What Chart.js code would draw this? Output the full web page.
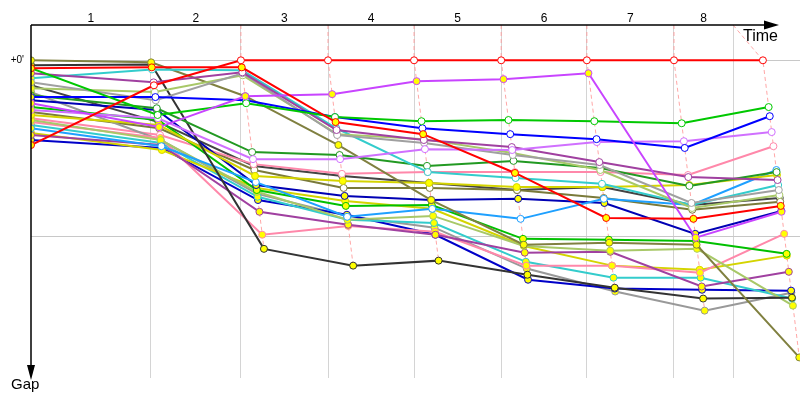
<!DOCTYPE html>
<html>
<head>
<meta charset="utf-8">
<script src="https://cdn.jsdelivr.net/npm/chart.js@4.4.1/dist/chart.umd.min.js"></script>
<style>
  body { margin: 0; background: #fff; }
  canvas { display: block; }
</style>
</head>
<body>
<canvas id="grafico" width="800" height="400"></canvas>
<script>
// etiquetas de vuelta (arriba)
const vueltas = ['1', '2', '3', '4', '5', '6', '7', '8'];
// tiempo de referencia del lider al final de cada vuelta (s), 0 = salida
const tiempoRef = [0, 333, 583, 825, 1064, 1306, 1544, 1786, 2033];
// lineas verticales de vuelta (s), la ultima es el tiempo limite
const lineasVuelta = [333, 583, 825, 1064, 1306, 1544, 1786, 1950];
// ticks del eje de gap (s)
const ticksGap = [0, 60];

// gap al lider por vuelta (s), indice 0 = parrilla
const rojo1      = [28.8, 8.5, 0, 0, 0, 0, 0, 0, 0];
const rojo2      = [2.7, 2.4, 2.4, 21.0, 25.1, 38.3, 53.6, 53.9, 49.5];
const violeta    = [14.6, 22.7, 12.2, 11.5, 7.1, 6.4, 4.4, 60.3, 51.5];
const verde      = [2.7, 18.6, 14.6, 19.3, 20.7, 20.3, 20.7, 21.4, 15.9];
const azul       = [12.5, 12.5, 13.6, 19.3, 23.1, 25.1, 26.8, 29.8, 19.0];
const lila       = [16.9, 19.7, 33.6, 33.6, 30.2, 30.5, 27.8, 27.5, 24.4];
const morado     = [4.4, 7.5, 4.1, 23.7, 27.1, 29.5, 34.6, 39.7, 40.7];
const gris       = [7.5, 13.6, 4.4, 25.4, 28.1, 32.2, 35.6, 48.5, 44.1];
const verdeClaro = [9.5, 10.8, 5.1, 25.1, 26.8, 31.5, 37.3, 50.2, 45.8];
const cian       = [6.1, 3.1, 3.4, 23.1, 38.0, 40.0, 42.0, 49.2, 42.4];
const verdeOsc   = [11.9, 16.3, 31.2, 32.2, 35.9, 34.2, 36.6, 42.7, 38.0];
const oliva      = [0, 0.7, 12.2, 28.8, 47.5, 62.7, 62.0, 62.7, 101.0];
const negro      = [1.7, 1.4, 64.1, 69.8, 68.1, 72.9, 77.3, 81.0, 80.7];
const amarillo   = [18.6, 22.0, 39.3, 41.0, 41.7, 43.1, 43.1, 42.4, 39.0];
const celeste    = [23.1, 29.2, 41.4, 53.2, 50.5, 53.9, 47.1, 49.2, 37.3];
const azulOsc    = [13.6, 16.9, 42.4, 46.1, 47.5, 47.1, 48.5, 59.0, 51.2];
const verde2     = [15.9, 20.3, 44.1, 49.5, 49.2, 60.7, 61.0, 61.4, 65.8];
const verdeClaro2 = [20.3, 27.1, 44.7, 54.2, 52.9, 63.1, 64.7, 64.1, 83.4];
const morado2    = [25.4, 28.8, 51.5, 55.9, 59.3, 65.4, 65.1, 76.9, 71.9];
const rosa       = [21.0, 26.4, 59.3, 56.3, 58.3, 69.8, 69.8, 72.2, 59.0];
const amarillo2  = [24.7, 30.5, 43.4, 47.8, 50.5, 63.1, 69.8, 71.2, 66.4];
const cian2      = [22.0, 28.1, 46.4, 54.2, 55.3, 68.5, 73.9, 73.9, 81.0];
const azul2      = [27.1, 29.8, 47.5, 52.5, 59.3, 74.6, 77.6, 78.0, 78.3];
const gris2      = [10.8, 27.1, 45.4, 52.9, 56.9, 70.8, 78.6, 85.1, 79.0];
const rosa2      = [19.7, 25.4, 35.3, 38.6, 38.0, 38.0, 38.0, 39.0, 29.2];
const olivaOsc   = [17.6, 23.1, 37.3, 43.4, 43.4, 44.1, 46.8, 50.8, 48.1];
const negro2     = [8.5, 21.0, 35.9, 39.3, 41.7, 44.1, 43.1, 49.2, 46.8];

const B = '#ffffff', Y = '#ffff00';
const pilotos = [
  { gaps: rojo1, color: '#ff0000', relleno: B },
  { gaps: rojo2, color: '#ff0000', relleno: Y },
  { gaps: violeta, color: '#c844ff', relleno: Y },
  { gaps: verde, color: '#00c800', relleno: B },
  { gaps: azul, color: '#0000ff', relleno: B },
  { gaps: lila, color: '#d070ff', relleno: B },
  { gaps: morado, color: '#a040a0', relleno: B },
  { gaps: gris, color: '#a0a0a0', relleno: B },
  { gaps: verdeClaro, color: '#a8c868', relleno: B },
  { gaps: cian, color: '#33cccc', relleno: B },
  { gaps: verdeOsc, color: '#229922', relleno: B },
  { gaps: oliva, color: '#808040', relleno: Y },
  { gaps: negro, color: '#333333', relleno: Y },
  { gaps: amarillo, color: '#d4d400', relleno: Y },
  { gaps: celeste, color: '#1ea0ff', relleno: B },
  { gaps: azulOsc, color: '#0000b4', relleno: Y },
  { gaps: verde2, color: '#00c000', relleno: Y },
  { gaps: verdeClaro2, color: '#a8c868', relleno: Y },
  { gaps: morado2, color: '#a040a0', relleno: Y },
  { gaps: rosa, color: '#ff88aa', relleno: Y },
  { gaps: amarillo2, color: '#d4d400', relleno: Y },
  { gaps: cian2, color: '#33cccc', relleno: Y },
  { gaps: azul2, color: '#0000c8', relleno: Y },
  { gaps: gris2, color: '#999999', relleno: Y },
  { gaps: rosa2, color: '#ff88aa', relleno: B },
  { gaps: olivaOsc, color: '#7a7a3a', relleno: B },
  { gaps: negro2, color: '#444444', relleno: B }
];

const datasets = pilotos.map((p, i) => ({
  data: p.gaps.map((g, k) => ({ x: k === 0 ? 0 : tiempoRef[k] + g, y: g })),
  borderColor: p.color,
  backgroundColor: p.color,
  // en la parrilla todos amarillos
  pointBackgroundColor: p.gaps.map((g, k) => k === 0 ? Y : p.relleno),
  pointBorderColor: p.color,
  pointRadius: 3.5,
  pointBorderWidth: 1,
  borderWidth: 2,
  showLine: true,
  clip: { left: 0, top: 6, right: 6, bottom: 6 },
  order: i
}));

// lineas discontinuas que unen a todos en la misma vuelta
for (let k = 2; k <= 8; k++) {
  const maxGap = Math.max(...pilotos.map(p => p.gaps[k]));
  datasets.push({
    data: [
      { x: lineasVuelta[k - 1], y: -12 },
      { x: tiempoRef[k], y: 0 },
      { x: tiempoRef[k] + maxGap, y: maxGap }
    ],
    borderColor: 'rgba(255, 150, 150, 0.85)',
    borderDash: [4, 3],
    borderWidth: 1,
    pointRadius: 0,
    showLine: true,
    order: 100
  });
}

const centros = lineasVuelta.map((v, i) => ((i === 0 ? 0 : lineasVuelta[i - 1]) + v) / 2);

const ejes = {
  id: 'ejes',
  afterDatasetsDraw(chart) {
    const { ctx, chartArea: a } = chart;
    ctx.save();
    ctx.strokeStyle = '#000';
    ctx.fillStyle = '#000';
    ctx.lineWidth = 1.5;
    ctx.beginPath();
    ctx.moveTo(a.left, a.top);
    ctx.lineTo(766, a.top);
    ctx.moveTo(a.left, a.top);
    ctx.lineTo(a.left, 366);
    ctx.stroke();
    ctx.beginPath();
    ctx.moveTo(779, a.top);
    ctx.lineTo(764, a.top - 4.5);
    ctx.lineTo(764, a.top + 4.5);
    ctx.closePath();
    ctx.fill();
    ctx.beginPath();
    ctx.moveTo(a.left, 380);
    ctx.lineTo(a.left - 4, 365);
    ctx.lineTo(a.left + 4, 365);
    ctx.closePath();
    ctx.fill();
    ctx.restore();
  },
  afterDraw(chart) {
    const { ctx } = chart;
    ctx.save();
    ctx.fillStyle = '#000';
    ctx.textBaseline = 'alphabetic';
    ctx.font = '16px "Liberation Sans", Arial, sans-serif';
    ctx.fillText('Time', 743, 41);
    ctx.font = '15px "Liberation Sans", Arial, sans-serif';
    ctx.fillText('Gap', 11, 389);
    ctx.restore();
  }
};

new Chart(document.getElementById('grafico'), {
  type: 'scatter',
  data: { datasets },
  options: {
    responsive: false,
    animation: false,
    layout: { padding: 0, autoPadding: false },
    plugins: {
      legend: { display: false },
      tooltip: { enabled: false }
    },
    scales: {
      x: {
        type: 'linear',
        position: 'bottom',
        min: 0,
        max: 2136,
        afterBuildTicks: s => { s.ticks = lineasVuelta.map(v => ({ value: v })); },
        afterFit: s => { s.height = 22; },
        ticks: { display: false },
        grid: { color: '#d4d4d4', drawTicks: false },
        border: { display: false }
      },
      xTop: {
        axis: 'x',
        type: 'linear',
        position: 'top',
        min: 0,
        max: 2136,
        afterBuildTicks: s => { s.ticks = centros.map(c => ({ value: c })); },
        afterFit: s => { s.height = 25; },
        ticks: {
          callback: (v, i) => vueltas[i],
          font: { size: 12, family: '"Liberation Sans", Arial' },
          color: '#000',
          padding: -1,
          autoSkip: false,
          maxRotation: 0
        },
        grid: { display: false, drawTicks: false },
        border: { display: false }
      },
      y: {
        type: 'linear',
        reverse: true,
        min: -12,
        max: 108,
        afterBuildTicks: s => { s.ticks = ticksGap.map(v => ({ value: v })); },
        afterFit: s => { s.width = 31; },
        ticks: {
          callback: v => v === 0 ? "+0'" : '',
          font: { size: 10, family: '"Liberation Sans", Arial' },
          color: '#000',
          padding: 7
        },
        grid: { color: '#c8c8c8', drawTicks: false },
        border: { display: false }
      }
    }
  },
  plugins: [ejes]
});
</script>
</body>
</html>
